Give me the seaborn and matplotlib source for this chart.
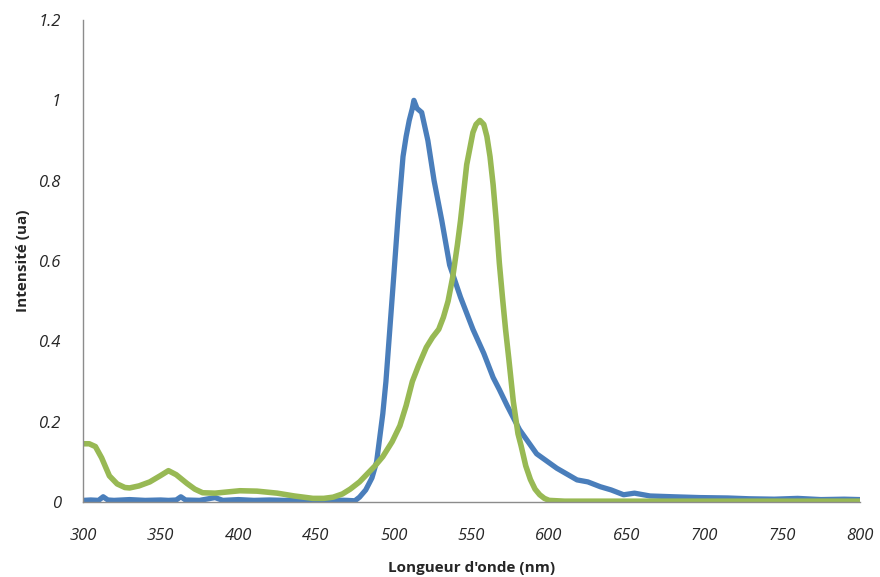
import numpy as np
import pandas as pd
import matplotlib
matplotlib.use("Agg")
import matplotlib.pyplot as plt
import seaborn as sns

# -- Spectre d'émission (bleu)
em_nm = [300, 305, 310, 313, 316, 320, 330, 340, 350, 355, 360, 363, 366, 375, 385, 390,
         400, 410, 420, 430, 440, 450, 460, 470, 475, 478, 482, 486, 489, 493, 495,
         500, 503, 506, 508, 510, 512, 513, 515, 518, 522, 526, 531, 536, 543, 551, 558,
         564, 568, 573, 581, 592, 605, 618, 625, 633, 640, 648, 655, 665, 680, 697, 715,
         729, 745, 760, 775, 790, 800]
em_int = [0.004, 0.005, 0.004, 0.013, 0.005, 0.004, 0.006, 0.004, 0.005, 0.004, 0.005,
          0.013, 0.005, 0.004, 0.011, 0.004, 0.006, 0.004, 0.005, 0.004, 0.006, 0.004,
          0.005, 0.004, 0.003, 0.012, 0.03, 0.06, 0.10, 0.22, 0.30,
          0.56, 0.72, 0.86, 0.91, 0.95, 0.98, 1.0, 0.98, 0.97, 0.90, 0.80, 0.70, 0.59,
          0.51, 0.43, 0.37, 0.31, 0.28, 0.24, 0.18, 0.12, 0.084, 0.055, 0.050, 0.038,
          0.030, 0.018, 0.022, 0.015, 0.013, 0.011, 0.010, 0.008, 0.007, 0.009, 0.006,
          0.007, 0.006]

# -- Spectre d'absorption (vert)
ab_nm = [300, 304, 308, 312, 317, 322, 327, 330, 336, 343, 350, 355, 360, 367, 372, 377,
         385, 393, 401, 412, 425, 436, 448, 455, 461, 467, 472, 478, 483, 488, 493, 499,
         504, 508, 512, 516, 521, 525, 529, 532, 535, 538, 541, 543, 545, 547, 549, 551,
         553, 555.5, 558, 560, 562, 564, 566, 568, 570, 572, 574, 577, 580, 582, 585,
         588, 591, 594, 597, 600, 610, 650, 700, 750, 800]
ab_int = [0.145, 0.145, 0.138, 0.11, 0.065, 0.045, 0.036, 0.035, 0.04, 0.05, 0.066,
          0.078, 0.068, 0.046, 0.032, 0.023, 0.022, 0.025, 0.028, 0.027, 0.022, 0.015,
          0.009, 0.009, 0.012, 0.02, 0.032, 0.05, 0.07, 0.09, 0.113, 0.15,
          0.19, 0.24, 0.30, 0.34, 0.385, 0.41, 0.43, 0.46, 0.50, 0.56, 0.64, 0.70, 0.77,
          0.84, 0.88, 0.92, 0.94, 0.95, 0.94, 0.91, 0.86, 0.79, 0.70, 0.595, 0.51, 0.43,
          0.36, 0.25, 0.17, 0.14, 0.09, 0.056, 0.032, 0.018, 0.009, 0.004, 0.002, 0.002,
          0.002, 0.002, 0.002]

x_ticks = [300, 350, 400, 450, 500, 550, 600, 650, 700, 750, 800]
y_ticks = [0, 0.2, 0.4, 0.6, 0.8, 1.0, 1.2]
y_labels = ["0", "0.2", "0.4", "0.6", "0.8", "1", "1.2"]

em = pd.DataFrame({"nm": em_nm, "I": em_int})
ab = pd.DataFrame({"nm": ab_nm, "I": ab_int})

sns.set_style("white")
plt.rcParams["font.family"] = ["Open Sans", "DejaVu Sans"]

fig = plt.figure(figsize=(8.8, 5.77), dpi=100)
ax = fig.add_axes([0.0943, 0.13, 0.8827, 0.8353])

sns.lineplot(data=em, x="nm", y="I", ax=ax, color="#4A7EBB", linewidth=3.8,
             solid_capstyle="round", solid_joinstyle="round")
sns.lineplot(data=ab, x="nm", y="I", ax=ax, color="#98B954", linewidth=4.0,
             solid_capstyle="round", solid_joinstyle="round")

ax.set_xlim(300, 800)
ax.set_ylim(0, 1.2)
ax.set_xticks(x_ticks)
ax.set_xticklabels([str(t) for t in x_ticks], fontsize=12, style="italic")
ax.set_yticks(y_ticks)
ax.set_yticklabels(y_labels, fontsize=12, style="italic")
ax.tick_params(axis="x", length=0, pad=19)
ax.tick_params(axis="y", length=0, pad=16)

ax.set_xlabel("Longueur d'onde (nm)", fontsize=11, fontweight="bold", labelpad=12)
ax.set_ylabel("Intensité (ua)", fontsize=11, fontweight="bold", labelpad=6)

for side in ["top", "right"]:
    ax.spines[side].set_visible(False)
for side in ["left", "bottom"]:
    ax.spines[side].set_color("#8C8C8C")
    ax.spines[side].set_linewidth(1.0)

fig.savefig("out.png", dpi=100)
